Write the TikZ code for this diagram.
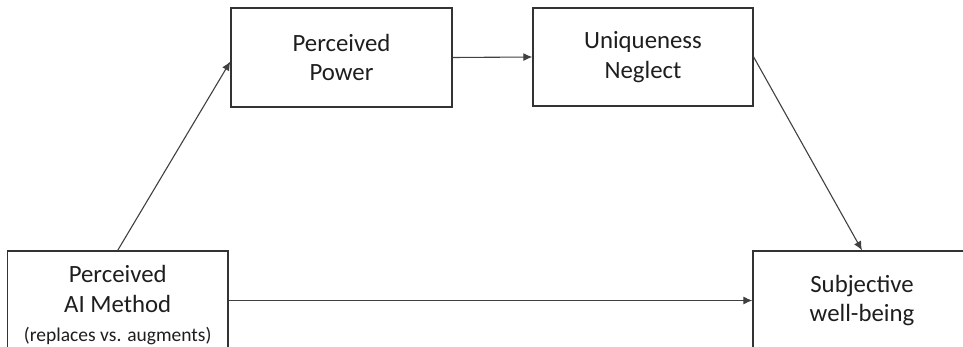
\documentclass[tikz,border=0pt]{standalone}
\usepackage{fontspec}
\setmainfont{Carlito}
\usetikzlibrary{arrows.meta,calc}
\definecolor{boxline}{HTML}{333333}
\definecolor{arrowline}{HTML}{404040}
\definecolor{txt}{HTML}{1E1E1E}
\tikzset{
  var/.style={draw=boxline, line width=1.3pt, rectangle, align=center,
    text=txt, font=\fontsize{24.8}{29.5}\selectfont, inner sep=0pt},
  link/.style={draw=arrowline, line width=1.1pt,
    -{Latex[length=9pt,width=8pt]}}
}
\begin{document}
\begin{tikzpicture}[x=1pt,y=-1pt]
  \useasboundingbox (0,0) rectangle (963,347);
  \clip (0,0) rectangle (963,347);
  % mediators
  \node[var, minimum width=221pt, minimum height=99pt] (pp) at (341.5,57.5)
    {Perceived\\Power};
  \node[var, minimum width=220pt, minimum height=98pt] (un) at (643,57)
    {Uniqueness\\Neglect};
  % predictor and outcome
  \node[var, minimum width=220.5pt, minimum height=99pt] (ai) at (117.7,300.5)
    {\rule{0pt}{26pt}Perceived\\[1pt]AI Method\\[-1pt]{\fontsize{19.5}{23}\selectfont (replaces vs. augments)}};
  \node[var, minimum width=218pt, minimum height=99pt] (sw) at (862,300.5)
    {Subjective\\well-being};
  % paths
  \draw[link] (ai.north) -- ($(pp.west)+(0,4)$);
  \draw[link] (pp.east) -- (un.west);
  \draw[link] (un.east) -- (sw.north);
  \draw[link] (ai.east) -- (sw.west);
\end{tikzpicture}
\end{document}
